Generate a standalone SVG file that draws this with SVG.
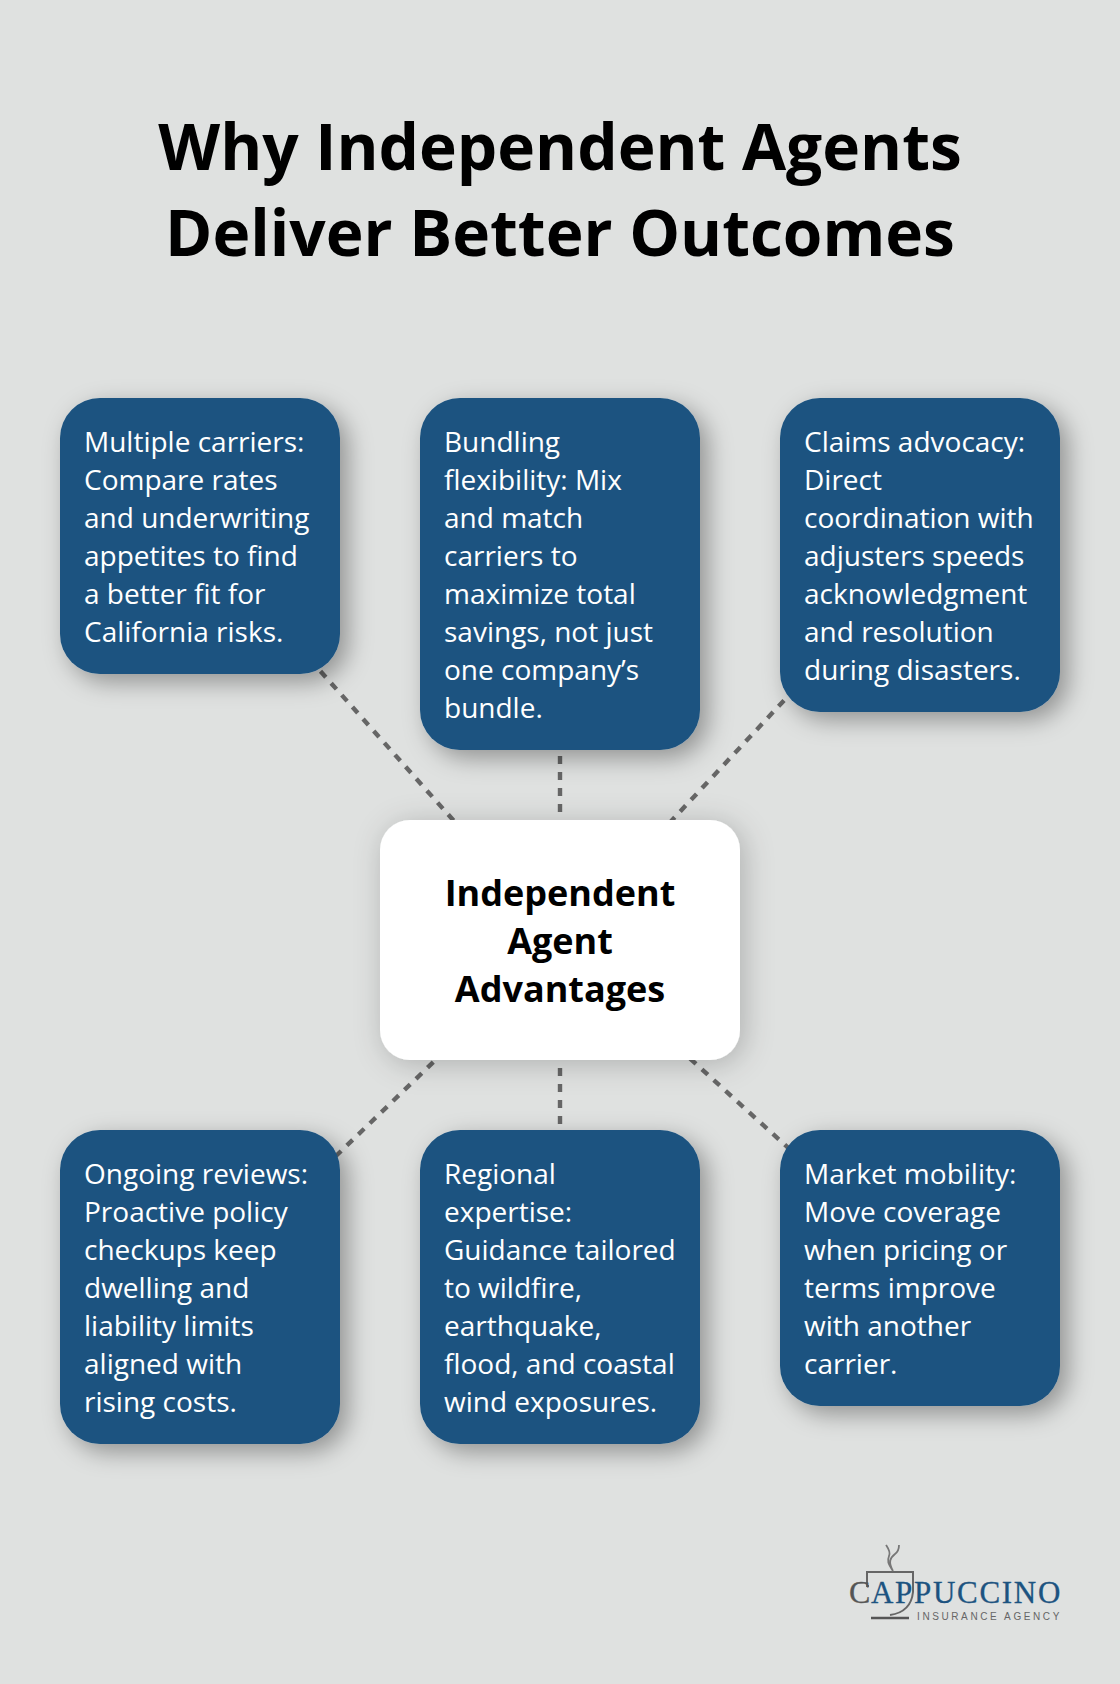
<svg xmlns="http://www.w3.org/2000/svg" width="1120" height="1684" viewBox="0 0 1120 1684">
<style>
.t{font-family:"Open Sans","Noto Sans",sans-serif;font-weight:700;font-size:64px;fill:#000;text-anchor:middle}
.c{font-family:"Open Sans","Noto Sans",sans-serif;font-size:28px;fill:#fff}
.h{font-family:"Open Sans","Noto Sans",sans-serif;font-weight:700;font-size:36px;fill:#000;text-anchor:middle}
.card{fill:#1c5380;filter:url(#s)}
.mid{fill:#fff;filter:url(#m)}
.ln{stroke:#666;stroke-width:4.4;stroke-dasharray:8 8;fill:none}
</style>
<defs>
<filter id="s" x="-30%" y="-30%" width="160%" height="160%"><feDropShadow dx="8" dy="8" stdDeviation="12" flood-color="#000" flood-opacity=".35"/></filter>
<filter id="m" x="-30%" y="-30%" width="160%" height="160%"><feDropShadow dx="4" dy="4" stdDeviation="15" flood-color="#000" flood-opacity=".22"/></filter>
</defs>
<rect width="1120" height="1684" fill="#dfe1e0"/>
<text class="t" x="560" y="170">Why Independent Agents</text>
<text class="t" x="560" y="256">Deliver Better Outcomes</text>
<g id="connectors">
<line class="ln" x1="560" y1="940" x2="200" y2="536"/>
<line class="ln" x1="560" y1="940" x2="560" y2="574"/>
<line class="ln" x1="560" y1="940" x2="920" y2="555"/>
<line class="ln" x1="560" y1="940" x2="200" y2="1287"/>
<line class="ln" x1="560" y1="940" x2="560" y2="1287"/>
<line class="ln" x1="560" y1="940" x2="920" y2="1268"/>
</g>
<g id="n1"><rect class="card" x="60" y="398" width="280" height="276" rx="40"/>
<text class="c" x="84" y="452">Multiple carriers:</text><text class="c" x="84" y="490">Compare rates</text><text class="c" x="84" y="528">and underwriting</text><text class="c" x="84" y="566">appetites to find</text><text class="c" x="84" y="604">a better fit for</text><text class="c" x="84" y="642">California risks.</text></g>
<g id="n2"><rect class="card" x="420" y="398" width="280" height="352" rx="40"/>
<text class="c" x="444" y="452">Bundling</text><text class="c" x="444" y="490">flexibility: Mix</text><text class="c" x="444" y="528">and match</text><text class="c" x="444" y="566">carriers to</text><text class="c" x="444" y="604">maximize total</text><text class="c" x="444" y="642">savings, not just</text><text class="c" x="444" y="680">one company’s</text><text class="c" x="444" y="718">bundle.</text></g>
<g id="n3"><rect class="card" x="780" y="398" width="280" height="314" rx="40"/>
<text class="c" x="804" y="452">Claims advocacy:</text><text class="c" x="804" y="490">Direct</text><text class="c" x="804" y="528">coordination with</text><text class="c" x="804" y="566">adjusters speeds</text><text class="c" x="804" y="604">acknowledgment</text><text class="c" x="804" y="642">and resolution</text><text class="c" x="804" y="680">during disasters.</text></g>
<g id="center"><rect class="mid" x="380" y="820" width="360" height="240" rx="30"/>
<text class="h" x="560" y="906">Independent</text><text class="h" x="560" y="954">Agent</text><text class="h" x="560" y="1002">Advantages</text></g>
<g id="n4"><rect class="card" x="60" y="1130" width="280" height="314" rx="40"/>
<text class="c" x="84" y="1184">Ongoing reviews:</text><text class="c" x="84" y="1222">Proactive policy</text><text class="c" x="84" y="1260">checkups keep</text><text class="c" x="84" y="1298">dwelling and</text><text class="c" x="84" y="1336">liability limits</text><text class="c" x="84" y="1374">aligned with</text><text class="c" x="84" y="1412">rising costs.</text></g>
<g id="n5"><rect class="card" x="420" y="1130" width="280" height="314" rx="40"/>
<text class="c" x="444" y="1184">Regional</text><text class="c" x="444" y="1222">expertise:</text><text class="c" x="444" y="1260">Guidance tailored</text><text class="c" x="444" y="1298">to wildfire,</text><text class="c" x="444" y="1336">earthquake,</text><text class="c" x="444" y="1374">flood, and coastal</text><text class="c" x="444" y="1412">wind exposures.</text></g>
<g id="n6"><rect class="card" x="780" y="1130" width="280" height="276" rx="40"/>
<text class="c" x="804" y="1184">Market mobility:</text><text class="c" x="804" y="1222">Move coverage</text><text class="c" x="804" y="1260">when pricing or</text><text class="c" x="804" y="1298">terms improve</text><text class="c" x="804" y="1336">with another</text><text class="c" x="804" y="1374">carrier.</text></g>
<g id="logo">
<path d="M869 1586 L867 1586 V1572 H913 V1592 Q911 1612 890 1615" fill="none" stroke="#666" stroke-width="2"/>
<path d="M871 1618 H909" stroke="#555" stroke-width="2.4"/>
<path d="M893 1571 C888 1563 887 1561 889 1556 C891 1552 888 1548 886 1545 M893 1571 C888 1562 890 1558 895 1554 C899 1551 899 1548 899 1545" fill="none" stroke="#777" stroke-width="1.8"/>
<text x="849" y="1603" font-family="Liberation Serif,serif" font-size="32" fill="#555" stroke="#555" stroke-width=".3">C</text>
<text x="871" y="1603" font-family="Liberation Serif,serif" font-size="31" letter-spacing="1.7" fill="#1c5380" stroke="#1c5380" stroke-width=".3">APPUCCINO</text>
<text x="917" y="1619.5" font-family="Liberation Sans,sans-serif" font-size="10" letter-spacing="2.6" fill="#666">INSURANCE AGENCY</text>
</g>
</svg>
